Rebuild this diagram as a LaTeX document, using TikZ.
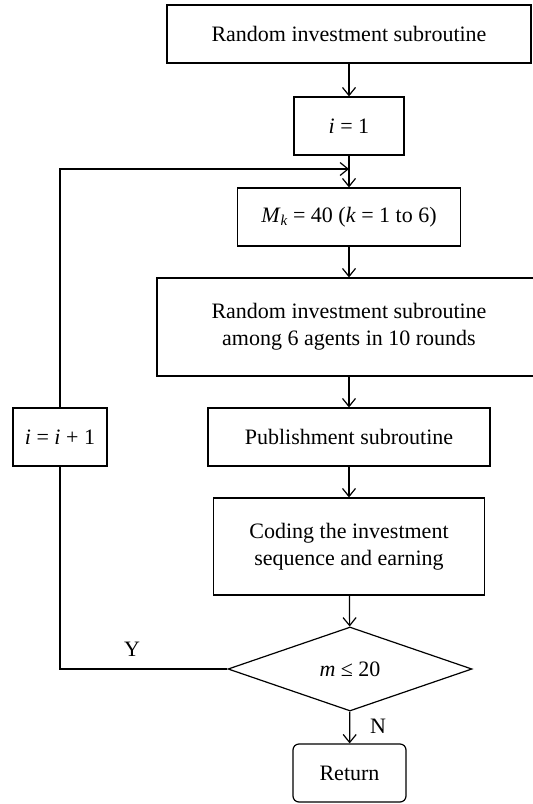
\documentclass[tikz,border=0pt]{standalone}
\usepackage{fontspec}
\setmainfont{Liberation Serif}
\usetikzlibrary{arrows.meta,shapes.geometric}
\newcommand{\va}[1]{\textit{#1}}
\begin{document}
\begin{tikzpicture}[x=1pt,y=-1pt,
  every node/.style={font=\fontsize{22}{27}\selectfont},
  flowbox/.style n args={2}{draw,line width=1.2pt,inner sep=0pt,
    minimum width=#1,minimum height=#2,align=center},
  arr/.style={line width=1.2pt,-{Straight Barb[length=8pt,width=13pt,line width=1.2pt]}},
  conn/.style={line width=1.2pt}]
\useasboundingbox (0,0) rectangle (533,804);
\clip (0,0) rectangle (533,804);

% process boxes
\node[flowbox={364pt}{58pt}] (b1) at (349,34) {Random investment subroutine};
\node[flowbox={110pt}{58pt}] (b2) at (349,126) {\va{i} = 1};
\node[flowbox={223pt}{58pt}] (b3) at (349,217) {\va{M}\raisebox{-0.3ex}{\fontsize{15}{15}\selectfont\va{k}} = 40 (\va{k} = 1 to 6)};
\node[flowbox={384pt}{98pt}] (b4) at (349,327) {Random investment subroutine\\among 6 agents in 10 rounds};
\node[flowbox={282pt}{58pt}] (b5) at (349,437) {Publishment subroutine};
\node[flowbox={94pt}{58pt}] (inc) at (60,437) {\va{i} = \va{i} + 1};
\node[flowbox={271pt}{97pt}] (b6) at (349,546.5) {Coding the investment\\sequence and earning};

% decision and terminal
\node[draw,line width=1.2pt,shape=diamond,inner sep=0pt,
      minimum width=244pt,minimum height=84pt] (dia) at (350,669) {\va{m} ≤ 20};
\node[flowbox={113pt}{58pt},rounded corners=6pt] (ret) at (349.5,773) {Return};

% junction of the loop with the main line
\coordinate (join) at (349,169);

% main flow
\draw[arr] (b1) -- (b2);
\draw[conn] (b2) -- (join);
\draw[arr] (join) -- (b3);
\draw[arr] (b3) -- (b4);
\draw[arr] (b4.south -| b5) -- (b5);
\draw[arr] (b5) -- (b6);
\draw[arr] (b6) -- (dia);
\draw[arr] (dia) -- (ret);

% loop back
\draw[conn] (dia.west) -| (inc.south);
\draw[arr] (inc.north) |- (join);

% branch labels
\node (yes) at (132,649) {Y};
\node (no) at (378,726) {N};
\end{tikzpicture}
\end{document}
